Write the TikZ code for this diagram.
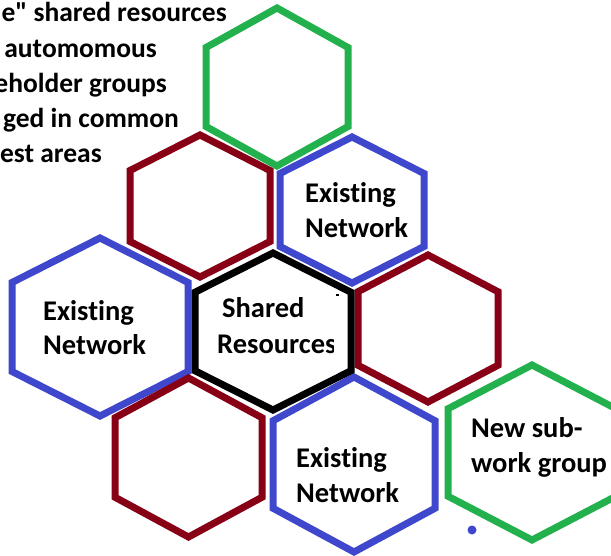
\documentclass[tikz,border=0pt]{standalone}
\usepackage{fontspec}
\setmainfont{Carlito}[Ligatures={TeXOff,NoCommon}]
\definecolor{hgreen}{RGB}{34,177,76}
\definecolor{hred}{RGB}{136,0,21}
\definecolor{hblue}{RGB}{63,72,204}
\newcommand{\hexshape}[5]{%
  \draw[hexline,#1] (#2,#3-#5) -- (#2+#4,#3-#5/2) -- (#2+#4,#3+#5/2) -- (#2,#3+#5)
    -- (#2-#4,#3+#5/2) -- (#2-#4,#3-#5/2) -- cycle;}
\tikzset{
  hexline/.style={line width=7pt, line join=miter},
  lbl/.style={anchor=base west, inner sep=0pt, font=\fontsize{28.5}{34}\selectfont\bfseries},
  toptext/.style={anchor=base east, inner sep=0pt, font=\fontsize{27.5}{33}\selectfont\bfseries}
}
\begin{document}
\begin{tikzpicture}[x=1pt,y=-1pt]
\useasboundingbox (0,0) rectangle (611,556);
\fill[white] (0,0) rectangle (611,556);
\clip (0,0) rectangle (611,556);
% top-left text (cut at the left edge, as in the reference)
\node[toptext] (t1) at (227,22) {e" shared resources};
\node[toptext] (t2) at (157,57.5) {automomous};
\node[toptext] (t3) at (167,93) {eholder groups};
\node[toptext] (t4) at (179,128) {ged in common};
\node[toptext] (t5) at (102,163) {est areas};
% hexagons
\hexshape{hgreen}{277}{87}{71}{79}
\hexshape{hred}{200}{206}{70}{71}
\hexshape{hblue}{352}{210}{72}{73}
\hexshape{hblue}{100}{327}{88}{89}
\hexshape{hred}{428}{328.5}{70}{73.5}
\hexshape{hred}{188.5}{457.5}{73.5}{79.5}
\hexshape{hblue}{354}{464.5}{81}{87.5}
\hexshape{hgreen}{532}{452.5}{84}{87.5}
\hexshape{black}{273}{331.5}{78}{78.5}
% labels
\node[lbl] (a1) at (305,203) {Existing};
\node[lbl] (a2) at (305,238) {Network};
\node[lbl] (b1) at (43,320) {Existing};
\node[lbl] (b2) at (43,355) {Network};
\node[lbl] (c1) at (222,318) {Shared};
\begin{scope}
  \clip (0,0) rectangle (333,556);
  \node[lbl] (c2) at (217,353) {Resources};
\end{scope}
\node[lbl] (d1) at (296,467) {Existing};
\node[lbl] (d2) at (296,502) {Network};
\node[lbl] (e1) at (471,437) {New sub-};
\node[lbl] (e2) at (471,472) {work group};
% small marks
\fill[black] (336,294.5) rectangle (339,296);
\fill[hblue] (472,530) circle (4.5);
\end{tikzpicture}
\end{document}
